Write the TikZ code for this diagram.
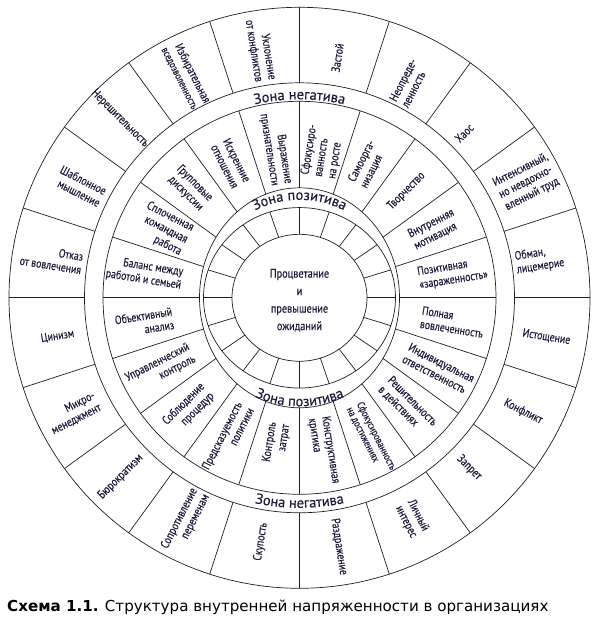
\documentclass[tikz,border=0pt]{standalone}
\usepackage{fontspec}
\setmainfont[FakeStretch=0.82, FakeBold=0.3]{PT Sans}
\newfontfamily\bandfont[FakeBold=0.3]{PT Sans}
\newfontfamily\capfont{DejaVu Sans}
\usetikzlibrary{decorations.text}

\definecolor{inkc}{RGB}{28,28,60}
\definecolor{linec}{RGB}{30,30,35}

\newcommand\zonefont{\bandfont\fontsize{14.5}{16}\selectfont}
\newcommand\tightfont{\fontsize{10.5}{11.5}\selectfont}

\tikzset{
  ring/.style={draw=linec, line width=0.7pt},
  cell/.style={font=\fontsize{12}{13.5}\selectfont, text=inkc, inner sep=0pt},
  rcell/.style={cell, align=left},
  lcell/.style={cell, align=right},
  zone/.style={decorate, decoration={text along path, text align=center, text color=inkc}}
}

\begin{document}
\begin{tikzpicture}[x=1pt,y=1pt]
\useasboundingbox (-299.5,-330.2) rectangle (298.5,297.8);

% rings
\draw[ring] (0,0) circle (290.5);
\draw[ring] (0,0) circle (215);
\draw[ring] (0,0) circle (196.5);
\draw[ring] (0,0) ellipse (100 and 110);
\begin{scope}[yscale=0.94]
\draw[ring] (0,0) circle (96);
\draw[ring] (0,0) circle (67.5);
\foreach \a in {0,18,...,342}
  \draw[ring] (\a:67.5) -- (\a:96);
\end{scope}

% sector lines
\foreach \a in {0,18,...,342}
  \draw[ring] (\a:215) -- (\a:290.5);
\begin{scope}[even odd rule]
\clip (0,0) circle (196.5) (0,0) ellipse (100 and 110);
\foreach \a in {0,18,...,342}
  \draw[ring] (0,0) -- (\a:196.5);
\end{scope}

% zone labels
\path[zone, decoration={text={|\zonefont|Зона негатива}}]
  (180:198.5) arc[start angle=180, end angle=0, radius=198.5];
\path[zone, decoration={text={|\zonefont|Зона негатива}}]
  (180:210) arc[start angle=180, end angle=360, radius=210];
\path[zone, decoration={text={|\zonefont|Зона позитива}}]
  (180:98) arc[start angle=180, end angle=0, radius=98];
\path[zone, decoration={text={|\zonefont|Зона позитива}}]
  (180:108.5) arc[start angle=180, end angle=360, radius=108.5];

% centre
\node[font=\fontsize{12.5}{17.5}\selectfont, text=inkc, align=center] (core) at (0,-2.5)
  {Процветание\\и\\превышение\\ожиданий};

% negative zone, right half
\node[rcell, rotate=81] (zastoy) at (81:243) {Застой};
\node[rcell, rotate=63] (neopr) at (63:241) {Неопреде-\\ленность};
\node[rcell, rotate=45] (haos) at (45:233) {Хаос};
\node[rcell, rotate=27] (intens) at (27:255) {Интенсивный,\\но невдохно-\\вленный труд};
\node[rcell, rotate=9] (obman) at (9:243) {Обман,\\лицемерие};
\node[rcell, rotate=-9] (istosh) at (-9:250) {Истощение};
\node[rcell, rotate=-27] (konflikt) at (-27:251) {Конфликт};
\node[rcell, rotate=-45] (zapret) at (-45:240) {Запрет};
\node[rcell, rotate=-63] (lichn) at (-63:248) {Личный\\интерес};
\node[rcell, rotate=-81] (razdr) at (-81:252) {Раздражение};

% negative zone, left half
\node[lcell, rotate=81] (skup) at (-99:247) {Скупость};
\node[lcell, rotate=63] (sopr) at (-117:251) {Сопротивление\\переменам};
\node[lcell, rotate=45] (bjur) at (-135:253) {Бюрократизм};
\node[lcell, rotate=27] (mikro) at (-153:254) {Микро-\\менеджмент};
\node[lcell, rotate=9] (cinizm) at (-171:245) {Цинизм};
\node[lcell, rotate=-9] (otkaz) at (171:251) {Отказ\\от вовлечения};
\node[lcell, rotate=-27] (shabl) at (153:246) {Шаблонное\\мышление};
\node[lcell, rotate=-45] (nereshit) at (135:254) {Нерешительность};
\node[lcell, rotate=-63] (izbir) at (117:250) {Избирательная\\{\tightfont вседозволенность}};
\node[lcell, rotate=-81] (uklon) at (99:251) {Уклонение\\от конфликтов};

% positive zone, right half
\node[rcell, rotate=81] (fokros) at (81:148) {Сфокусиро-\\ванность\\на росте};
\node[rcell, rotate=63] (samoorg) at (63:150) {Самоорга-\\низация};
\node[rcell, rotate=45] (tvorch) at (45:151) {Творчество};
\node[rcell, rotate=27] (vnutr) at (27:151) {Внутренняя\\мотивация};
\node[rcell, rotate=9] (zaraz) at (9:155) {Позитивная\\«зараженность»};
\node[rcell, rotate=-9] (polnaya) at (-9:155) {Полная\\вовлеченность};
\node[rcell, rotate=-27] (indiv) at (-27:156) {Индивидуальная\\ответственность};
\node[rcell, rotate=-45] (reshit) at (-45:153) {Решительность\\в действиях};
\node[rcell, rotate=-63, font=\tightfont] (fokdost) at (-63:158) {Сфокусированность\\на достижениях};
\node[rcell, rotate=-81] (konstr) at (-81:155) {Конструктивная\\критика};

% positive zone, left half
\node[lcell, rotate=81] (zatrat) at (-99:147) {Контроль\\затрат};
\node[lcell, rotate=63] (predsk) at (-117:158) {Предсказуемость\\политики};
\node[lcell, rotate=45] (sobl) at (-135:157) {Соблюдение\\процедур};
\node[lcell, rotate=27] (uprav) at (-153:156) {Управленческий\\контроль};
\node[lcell, rotate=9] (obekt) at (-171:157) {Объективный\\анализ};
\node[lcell, rotate=-9] (balans) at (171:157) {Баланс между\\работой и семьей};
\node[lcell, rotate=-27] (komanda) at (153:152) {Сплоченная\\командная\\работа};
\node[lcell, rotate=-45] (grupp) at (135:155) {Групповые\\дискуссии};
\node[lcell, rotate=-63] (iskr) at (117:151) {Искренние\\отношения};
\node[lcell, rotate=-81] (vyrazh) at (99:151) {Выражение\\признательности};

% caption
\node[anchor=base west, inner sep=0pt, font=\capfont\fontsize{15.1}{18}\selectfont] (caption) at (-292.5,-313.7)
  {\textbf{Схема 1.1.} Структура внутренней напряженности в организациях};
\end{tikzpicture}
\end{document}
